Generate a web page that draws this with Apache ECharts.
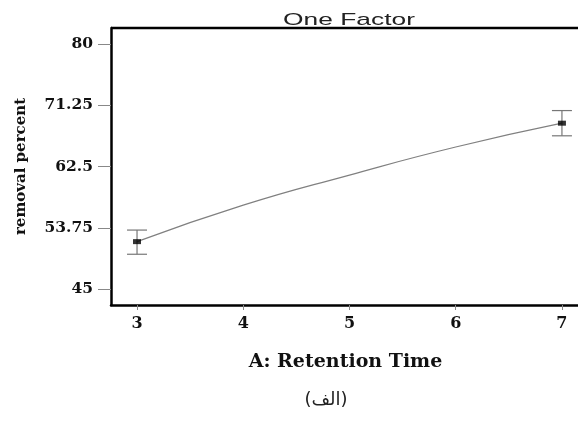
<!DOCTYPE html>
<html>
<head>
<meta charset="utf-8">
<script src="https://cdn.jsdelivr.net/npm/echarts@6/dist/echarts.min.js"></script>
<style>html,body{margin:0;padding:0;background:#fff;}#c{width:578px;height:423px;}</style>
</head>
<body>
<div id="c"></div>
<script>
// Data
const xTicks = [3, 4, 5, 6, 7];
const yTicks = [45, 53.75, 62.5, 71.25, 80];
const pointX = [3, 7];
const pointY = [51.8, 68.7];
const errLow = [50.0, 66.9];
const errHigh = [53.45, 70.5];
const curveX = [3, 4, 5, 6, 7];
const curveY = [51.8, 57.0, 61.3, 65.3, 68.7];

const chart = echarts.init(document.getElementById('c'));
const serif = 'DejaVu Serif';
chart.setOption({
  animation: false,
  backgroundColor: '#fff',
  grid: {left: 111, top: 28, width: 469, height: 277, outerBoundsMode: 'none', containLabel: false},
  xAxis: {
    type: 'value', min: 2.755, max: 7.17,
    name: 'A: Retention Time', nameLocation: 'middle', nameGap: 48,
    nameTextStyle: {fontFamily: serif, fontWeight: 'bold', fontSize: 19, color: '#111'},
    axisLine: {lineStyle: {color: '#000', width: 2.5}},
    axisTick: {show: true, length: 5, lineStyle: {color: '#888'}, customValues: xTicks},
    axisLabel: {fontFamily: serif, fontWeight: 'bold', fontSize: 16, color: '#111', margin: 11, customValues: xTicks},
    splitLine: {show: false}
  },
  yAxis: {
    type: 'value', min: 42.76, max: 82.28,
    name: 'removal percent', nameLocation: 'middle', nameGap: 82, nameRotate: 90,
    nameTextStyle: {fontFamily: serif, fontWeight: 'bold', fontSize: 15, color: '#111'},
    axisLine: {lineStyle: {color: '#000', width: 2.5}},
    axisTick: {show: true, length: 13, lineStyle: {color: '#888'}, customValues: yTicks},
    axisLabel: {fontFamily: serif, fontWeight: 'bold', fontSize: 15.5, color: '#111', margin: 18, customValues: yTicks,
      formatter: v => String(v)},
    splitLine: {show: false}
  },
  graphic: [{
    type: 'line', shape: {x1: 111, y1: 28, x2: 578, y2: 28},
    style: {stroke: '#000', lineWidth: 2.5}
  }, {
    type: 'text', x: 349, y: 20, scaleX: 1.55,
    style: {text: 'One Factor', font: '17px "Liberation Sans"', fill: '#222', align: 'center', verticalAlign: 'middle'}
  }, {
    type: 'text', x: 326, y: 400,
    style: {text: '(الف)', font: '18px "DejaVu Sans"', fill: '#222', align: 'center', verticalAlign: 'middle'}
  }],
  series: [{
    type: 'line', smooth: true, symbol: 'none',
    data: curveX.map((x, i) => [x, curveY[i]]),
    lineStyle: {color: '#808080', width: 1.2}, z: 2
  }, {
    type: 'custom',
    data: pointX.map((x, i) => [x, errLow[i], errHigh[i]]),
    renderItem: function (params, api) {
      const lo = api.coord([api.value(0), api.value(1)]);
      const hi = api.coord([api.value(0), api.value(2)]);
      const hw = 10;
      const st = {stroke: '#777', lineWidth: 1.2};
      return {type: 'group', children: [
        {type: 'line', shape: {x1: lo[0], y1: lo[1], x2: hi[0], y2: hi[1]}, style: st},
        {type: 'line', shape: {x1: lo[0] - hw, y1: lo[1], x2: lo[0] + hw, y2: lo[1]}, style: st},
        {type: 'line', shape: {x1: hi[0] - hw, y1: hi[1], x2: hi[0] + hw, y2: hi[1]}, style: st}
      ]};
    }, z: 3
  }, {
    type: 'scatter', symbol: 'rect', symbolSize: [8, 5],
    data: pointX.map((x, i) => [x, pointY[i]]),
    itemStyle: {color: '#000'}, z: 4
  }]
});
</script>
</body>
</html>
